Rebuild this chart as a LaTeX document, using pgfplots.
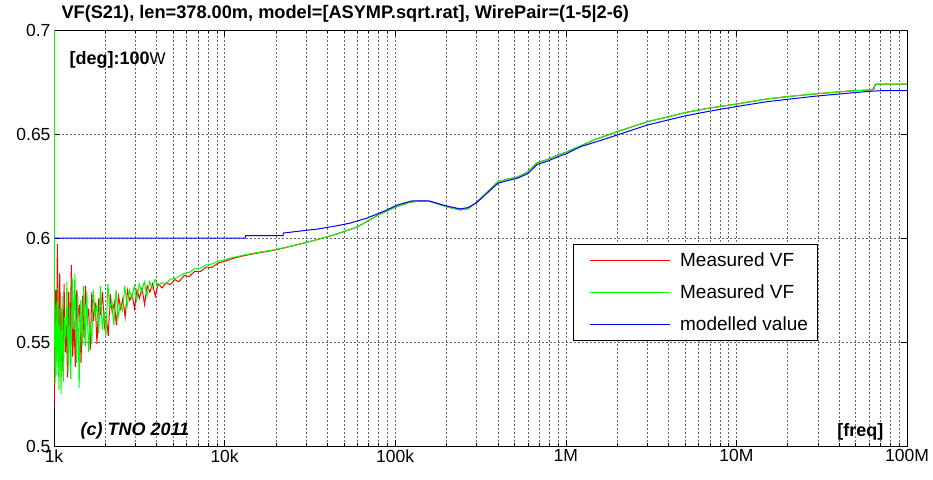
\documentclass[border=0pt]{standalone}
\usepackage{pgfplots}
\pgfplotsset{compat=1.18}
\usepackage{fontspec}
\setmainfont{Liberation Sans}

\pgfplotstableread{
f v
1000 0.600
1002 0.518
1012 0.560
1024 0.575
1036 0.543
1046 0.597
1064 0.540
1080 0.583
1096 0.548
1112 0.566
1128 0.536
1146 0.578
1164 0.545
1182 0.558
1200 0.533
1220 0.574
1242 0.549
1264 0.587
1286 0.543
1310 0.560
1334 0.538
1360 0.575
1386 0.562
1412 0.568
1440 0.540
1470 0.572
1500 0.552
1530 0.577
1562 0.561
1596 0.566
1630 0.546
1666 0.574
1704 0.560
1744 0.569
1786 0.549
1830 0.571
1876 0.563
1924 0.574
1974 0.557
2026 0.562
2080 0.553
2136 0.573
2196 0.564
2258 0.569
2322 0.558
2390 0.572
2460 0.566
2534 0.571
2612 0.562
2694 0.575
2780 0.570
2870 0.573
2964 0.566
3064 0.575
3168 0.571
3278 0.576
3394 0.568
3516 0.577
3646 0.574
3782 0.578
3926 0.572
4080 0.578
4300 0.5760
4550 0.5785
4800 0.5775
5100 0.5800
5400 0.5790
5800 0.5820
6200 0.5815
6700 0.5840
7200 0.5838
7800 0.5860
8400 0.5858
9200 0.5880
10000 0.5888
11000 0.5900
12500 0.5912
15000 0.5925
20000 0.5943
25000 0.5962
30000 0.5978
37700 0.6000
45000 0.6018
60000 0.6053
80000 0.6112
100000 0.6148
122000 0.6172
140000 0.6178
160000 0.6176
200000 0.6150
240000 0.6135
267000 0.6140
300000 0.6172
400000 0.6270
450000 0.6282
520000 0.6293
600000 0.6318
680000 0.6362
780000 0.6377
900000 0.6399
1000000 0.6412
1500000 0.6475
2000000 0.6511
3000000 0.6559
4000000 0.6583
5000000 0.6603
7000000 0.6625
10000000 0.6644
15000000 0.6668
20000000 0.6680
30000000 0.6694
45000000 0.6706
60000000 0.6712
63000000 0.6713
64000000 0.6725
66000000 0.6740
100000000 0.6740
}\redtab

\pgfplotstableread{
f v
1004 0.700
1006 0.560
1016 0.530
1028 0.569
1040 0.534
1054 0.576
1068 0.527
1084 0.566
1100 0.525
1116 0.572
1134 0.531
1152 0.562
1170 0.552
1190 0.579
1210 0.536
1232 0.567
1254 0.532
1278 0.581
1302 0.556
1326 0.583
1352 0.540
1378 0.572
1404 0.528
1432 0.570
1462 0.548
1494 0.577
1526 0.548
1558 0.574
1592 0.545
1628 0.560
1664 0.549
1702 0.575
1742 0.563
1784 0.568
1828 0.554
1872 0.577
1918 0.556
1966 0.565
2016 0.553
2070 0.578
2126 0.566
2184 0.570
2246 0.558
2310 0.575
2378 0.562
2448 0.568
2522 0.565
2600 0.577
2682 0.567
2768 0.575
2858 0.571
2952 0.577
3052 0.570
3156 0.578
3266 0.574
3382 0.579
3504 0.572
3634 0.579
3770 0.576
3914 0.580
4068 0.577
4300 0.5785
4550 0.5780
4800 0.5802
5100 0.5805
5400 0.5815
5800 0.5830
6200 0.5835
6700 0.5852
7200 0.5855
7800 0.5870
8400 0.5875
9200 0.5888
10000 0.5895
11000 0.5905
12500 0.5915
15000 0.5928
20000 0.5945
25000 0.5963
30000 0.5978
37700 0.6000
45000 0.6018
60000 0.6053
80000 0.6112
100000 0.6148
122000 0.6172
140000 0.6178
160000 0.6176
200000 0.6150
240000 0.6135
267000 0.6140
300000 0.6172
400000 0.6270
450000 0.6282
520000 0.6293
600000 0.6318
680000 0.6362
780000 0.6377
900000 0.6399
1000000 0.6412
1500000 0.6475
2000000 0.6511
3000000 0.6559
4000000 0.6583
5000000 0.6603
7000000 0.6625
10000000 0.6644
15000000 0.6668
20000000 0.6680
30000000 0.6694
45000000 0.6706
60000000 0.6712
64000000 0.6713
65000000 0.6740
100000000 0.6740
}\greentab

\pgfplotstableread{
f v
1000 0.6000
13200 0.6000
13300 0.6011
22000 0.6011
22100 0.6024
29500 0.6036
35000 0.6043
45000 0.6058
54000 0.6071
68000 0.6095
85000 0.6127
104000 0.6160
126000 0.6179
158000 0.6178
200000 0.6154
240000 0.6140
267000 0.6146
300000 0.6170
400000 0.6263
450000 0.6275
520000 0.6287
600000 0.6310
680000 0.6354
780000 0.6369
900000 0.6391
1000000 0.6404
1220000 0.6439
1500000 0.6462
2000000 0.6495
3000000 0.6543
4000000 0.6568
5000000 0.6587
7000000 0.6610
10000000 0.6632
15000000 0.6655
20000000 0.6667
30000000 0.6683
45000000 0.6696
60000000 0.6705
70000000 0.6708
100000000 0.6708
}\bluetab

\begin{document}
\begin{tikzpicture}
\path[use as bounding box] (-54pt,-33pt) rectangle (879pt,446pt);
\begin{axis}[
  at={(0pt,0pt)}, anchor=south west,
  scale only axis, width=853pt, height=416pt,
  xmode=log, xmin=1000, xmax=1e8, ymin=0.5, ymax=0.7,
  xtick={1e3,1e4,1e5,1e6,1e7,1e8},
  xticklabels={1k,10k,100k,1M,10M,100M},
  ytick={0.5,0.55,0.6,0.65,0.7},
  yticklabels={0.5,0.55,0.6,0.65,0.7},
  xmajorgrids, xminorgrids, ymajorgrids,
  major grid style={black!60, line width=0.6pt, dash pattern=on 2pt off 2pt},
  minor grid style={black!60, line width=0.6pt, dash pattern=on 2pt off 2pt},
  tick align=inside, major tick length=6pt, minor tick length=3.5pt,
  tick style={black, line width=0.6pt},
  axis line style={black, line width=0.9pt},
  tick label style={font=\fontsize{17.5}{20}\selectfont},
  /pgf/number format/assume math mode=true,
  legend cell align=left,
  legend style={at={(0.608,0.4856)}, anchor=north west, line width=1pt,
    font=\fontsize{19}{22}\selectfont, inner xsep=8pt, inner ysep=6pt, row sep=13pt},
  legend image code/.code={\path (-8pt,0pt) (88pt,0pt); \draw[#1] (0pt,0pt) -- (80pt,0pt);},
]
\addplot[red, line width=1pt, legend image post style={draw=red, line width=1pt}] table[x=f, y=v] {\redtab};
\addlegendentry{Measured VF}
\addplot[green, line width=1pt, legend image post style={draw=green, line width=1pt}] table[x=f, y=v] {\greentab};
\addlegendentry{Measured VF}
\addplot[blue, line width=1pt, legend image post style={draw=blue, line width=1pt}] table[x=f, y=v] {\bluetab};
\addlegendentry{modelled value}
\end{axis}
\node[anchor=base west, font=\bfseries\fontsize{18.2}{20}\selectfont] at (4pt,427pt) {VF(S21), len=378.00m, model=[ASYMP.sqrt.rat], WirePair=(1-5|2-6)};
\node[anchor=base west, font=\bfseries\fontsize{18}{20}\selectfont] at (12pt,381pt) {[deg]:100{\mdseries\fontsize{17}{20}\selectfont W}};
\node[anchor=base west, font=\bfseries\itshape\fontsize{18}{20}\selectfont] at (23pt,11pt) {(c) TNO 2011};
\node[anchor=base east, font=\bfseries\fontsize{18}{20}\selectfont] at (833pt,10pt) {[freq]};
\end{tikzpicture}
\end{document}
